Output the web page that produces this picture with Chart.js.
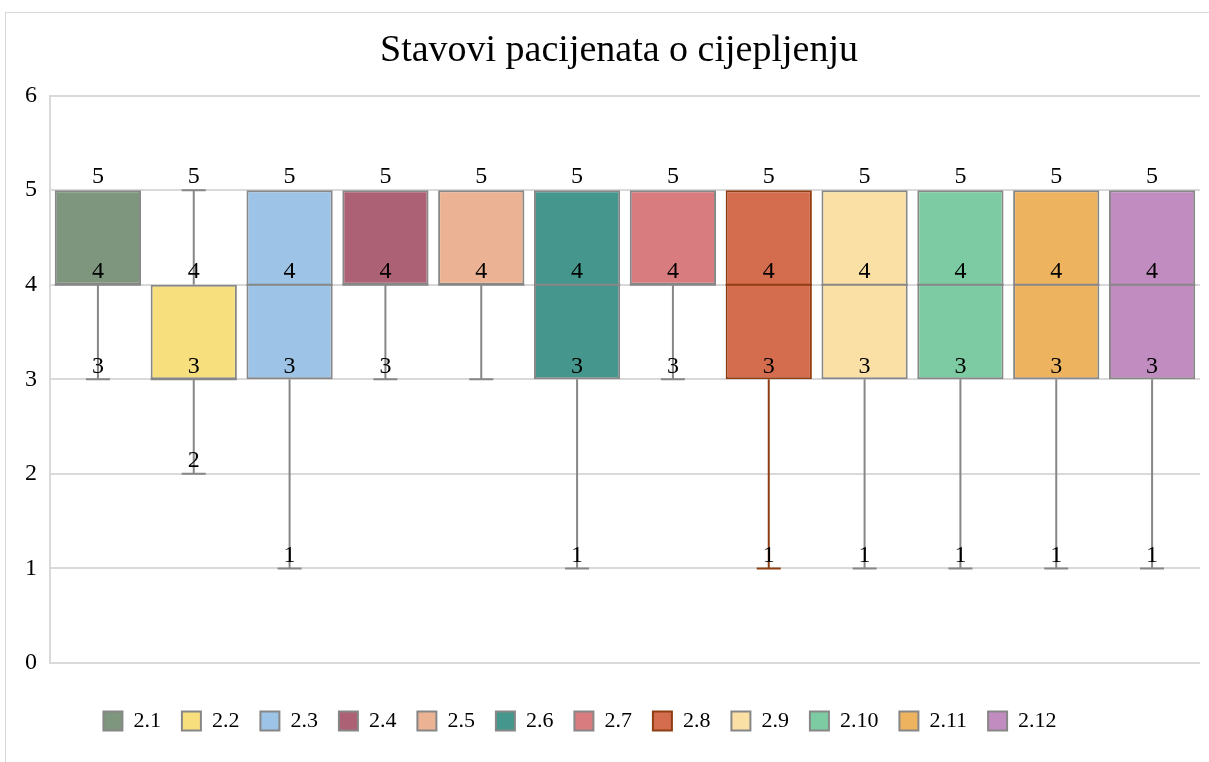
<!DOCTYPE html>
<html>
<head>
<meta charset="utf-8">
<script src="https://cdn.jsdelivr.net/npm/chart.js@4.4.0/dist/chart.umd.min.js"></script>
<style>
    body { margin: 0; background: #fff; }
    #wrap { position: absolute; left: 5px; top: 12px; width: 1203px; height: 749px; border: 1px solid #d9d9d9; }
</style>
</head>
<body>
<div id="wrap"><canvas id="boxChart" width="1203" height="749"></canvas></div>
<script>
// Podaci za box plot (vrijednosti očitane sa slike)
const categories = ['2.1', '2.2', '2.3', '2.4', '2.5', '2.6', '2.7', '2.8', '2.9', '2.10', '2.11', '2.12'];
const minValues = [3, 2, 1, 3, 3, 1, 3, 1, 1, 1, 1, 1];
const q1Values = [4, 3, 3, 4, 4, 3, 4, 3, 3, 3, 3, 3];
const medianValues = [4, 3, 4, 4, 4, 4, 4, 4, 4, 4, 4, 4];
const q3Values = [5, 4, 5, 5, 5, 5, 5, 5, 5, 5, 5, 5];
const maxValues = [5, 5, 5, 5, 5, 5, 5, 5, 5, 5, 5, 5];
const showMinLabel = [true, true, true, true, false, true, true, true, true, true, true, true];
const yTicks = [0, 1, 2, 3, 4, 5, 6];

const fillColors = ['#7e957e', '#f7df7e', '#9dc3e6', '#ad6174', '#ebb393', '#45968c',
    '#d97c80', '#d46c4e', '#fae0a5', '#7dcba2', '#eeb35f', '#c18cc0'];
const lineColors = ['#878787', '#878787', '#878787', '#878787', '#878787', '#878787',
    '#878787', '#8f3e13', '#878787', '#878787', '#878787', '#878787'];

const fontFamily = "'Liberation Serif', 'Times New Roman', serif";

// svaki niz ima vrijednost samo na svom mjestu, ostalo null
const datasets = categories.map((name, i) => ({
    label: name,
    data: categories.map((c, j) => j === i ? [q1Values[i], q3Values[i]] : null),
    backgroundColor: fillColors[i],
    borderColor: lineColors[i],
    borderWidth: 2,
    borderSkipped: false,
    barPercentage: 0.9,
    categoryPercentage: 1.0,
    skipNull: true
}));

// brkovi, medijan i oznake vrijednosti
const boxExtras = {
    id: 'boxExtras',
    afterLayout(chart) {
        // Excel malo pomiče naslov i legendu
        chart.titleBlock.left += 16;
        chart.titleBlock.right += 16;
        chart.legend.left -= 23;
        chart.legend.right -= 23;
    },
    afterDatasetsDraw(chart) {
        const ctx = chart.ctx;
        const y = chart.scales.y;
        ctx.save();
        datasets.forEach((ds, i) => {
            const bar = chart.getDatasetMeta(i).data[i];
            if (!bar) return;
            const cx = bar.x;
            const half = bar.width / 2;
            const capHalf = 12;
            ctx.strokeStyle = lineColors[i];
            ctx.lineWidth = 2;
            // donji brk
            if (minValues[i] < q1Values[i]) {
                ctx.beginPath();
                ctx.moveTo(cx, y.getPixelForValue(q1Values[i]));
                ctx.lineTo(cx, y.getPixelForValue(minValues[i]));
                ctx.moveTo(cx - capHalf, y.getPixelForValue(minValues[i]));
                ctx.lineTo(cx + capHalf, y.getPixelForValue(minValues[i]));
                ctx.stroke();
            }
            // gornji brk
            if (maxValues[i] > q3Values[i]) {
                ctx.beginPath();
                ctx.moveTo(cx, y.getPixelForValue(q3Values[i]));
                ctx.lineTo(cx, y.getPixelForValue(maxValues[i]));
                ctx.moveTo(cx - capHalf, y.getPixelForValue(maxValues[i]));
                ctx.lineTo(cx + capHalf, y.getPixelForValue(maxValues[i]));
                ctx.stroke();
            }
            // medijan
            ctx.beginPath();
            ctx.moveTo(cx - half, y.getPixelForValue(medianValues[i]));
            ctx.lineTo(cx + half, y.getPixelForValue(medianValues[i]));
            ctx.stroke();

            // oznake
            let vals = [maxValues[i], q3Values[i], medianValues[i], q1Values[i]];
            if (showMinLabel[i]) vals.push(minValues[i]);
            vals = [...new Set(vals)];
            ctx.fillStyle = '#000';
            ctx.font = '24px ' + fontFamily;
            ctx.textAlign = 'center';
            ctx.textBaseline = 'bottom';
            vals.forEach(v => {
                ctx.fillText(String(v), cx, y.getPixelForValue(v) - 1);
            });
        });
        ctx.restore();
    }
};

new Chart(document.getElementById('boxChart'), {
    type: 'bar',
    data: { labels: categories, datasets: datasets },
    plugins: [boxExtras],
    options: {
        responsive: false,
        animation: false,
        layout: { padding: { left: 0, right: 9, top: 0, bottom: 20 } },
        plugins: {
            title: {
                display: true,
                text: 'Stavovi pacijenata o cijepljenju',
                color: '#000',
                font: { family: fontFamily, size: 38, weight: 'normal' },
                padding: { top: 15, bottom: 22 }
            },
            legend: {
                position: 'bottom',
                labels: {
                    color: '#000',
                    font: { family: fontFamily, size: 22 },
                    boxWidth: 19,
                    boxHeight: 19,
                    padding: 21
                }
            },
            tooltip: { enabled: false }
        },
        scales: {
            x: {
                grid: { display: false },
                border: { display: false },
                ticks: { display: false },
                afterFit: (s) => { s.height = 26; }
            },
            y: {
                min: 0,
                max: 6,
                afterFit: (s) => { s.width = 44; },
                afterBuildTicks: (s) => { s.ticks = yTicks.map(v => ({ value: v })); },
                grid: { color: '#d9d9d9', lineWidth: 2, drawTicks: false },
                border: { display: true, color: '#d9d9d9', width: 2 },
                ticks: {
                    color: '#000',
                    padding: 13,
                    font: { family: fontFamily, size: 24 }
                }
            }
        }
    }
});
</script>
</body>
</html>
